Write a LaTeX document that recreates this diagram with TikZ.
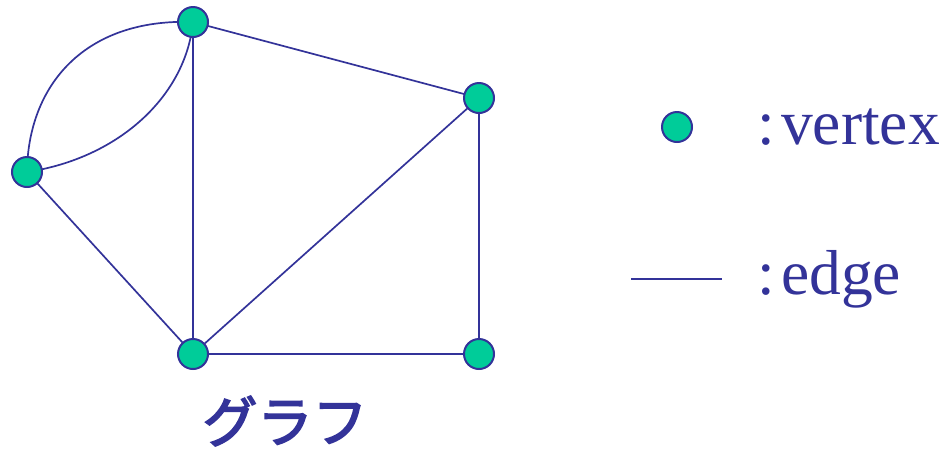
\documentclass[tikz,border=0pt]{standalone}
\usepackage{fontspec}
\setmainfont{Liberation Serif}
\newfontfamily\cjk[FakeBold=3]{Noto Sans CJK JP}
\definecolor{edgeblue}{HTML}{333399}
\definecolor{vgreen}{HTML}{00CC99}
\begin{document}
\begin{tikzpicture}[x=1pt,y=-1pt,
  vtx/.style={circle,draw=edgeblue,fill=vgreen,line width=2pt,minimum size=30pt,inner sep=0pt},
  edg/.style={draw=edgeblue,line width=1.7pt},
  lbl/.style={text=edgeblue,font=\fontsize{63.5}{72}\selectfont,inner sep=0pt}]
\useasboundingbox (0,0) rectangle (947,451);
\coordinate (T) at (193,22);
\coordinate (R) at (479,98);
\coordinate (L) at (27,172);
\coordinate (B) at (193,354);
\coordinate (BR) at (479,354);
\draw[edg] (L) .. controls (28,85) and (85,18) .. (T);
\draw[edg] (T) .. controls (186,95) and (120,158) .. (L);
\draw[edg] (T) -- (R);
\draw[edg] (T) -- (B);
\draw[edg] (L) -- (B);
\draw[edg] (R) -- (B);
\draw[edg] (R) -- (BR);
\draw[edg] (B) -- (BR);
\node[vtx] (t) at (T) {};
\node[vtx] (r) at (R) {};
\node[vtx] (l) at (L) {};
\node[vtx] (b) at (B) {};
\node[vtx] (br) at (BR) {};
\node[vtx] (lv) at (677,127) {};
\coordinate (le1) at (631,279);
\coordinate (le2) at (722,279);
\draw[edg] (le1) -- (le2);
\node[lbl,anchor=base west] (tv) at (757,144) {:\hspace{0.1em}vertex};
\node[lbl,anchor=base west] (te) at (757,294) {:\hspace{0.1em}edge};
\node[text=edgeblue,font=\cjk\fontsize{55}{60}\selectfont,inner sep=0pt] (tg) at (285,421) {グラフ};
\end{tikzpicture}
\end{document}
